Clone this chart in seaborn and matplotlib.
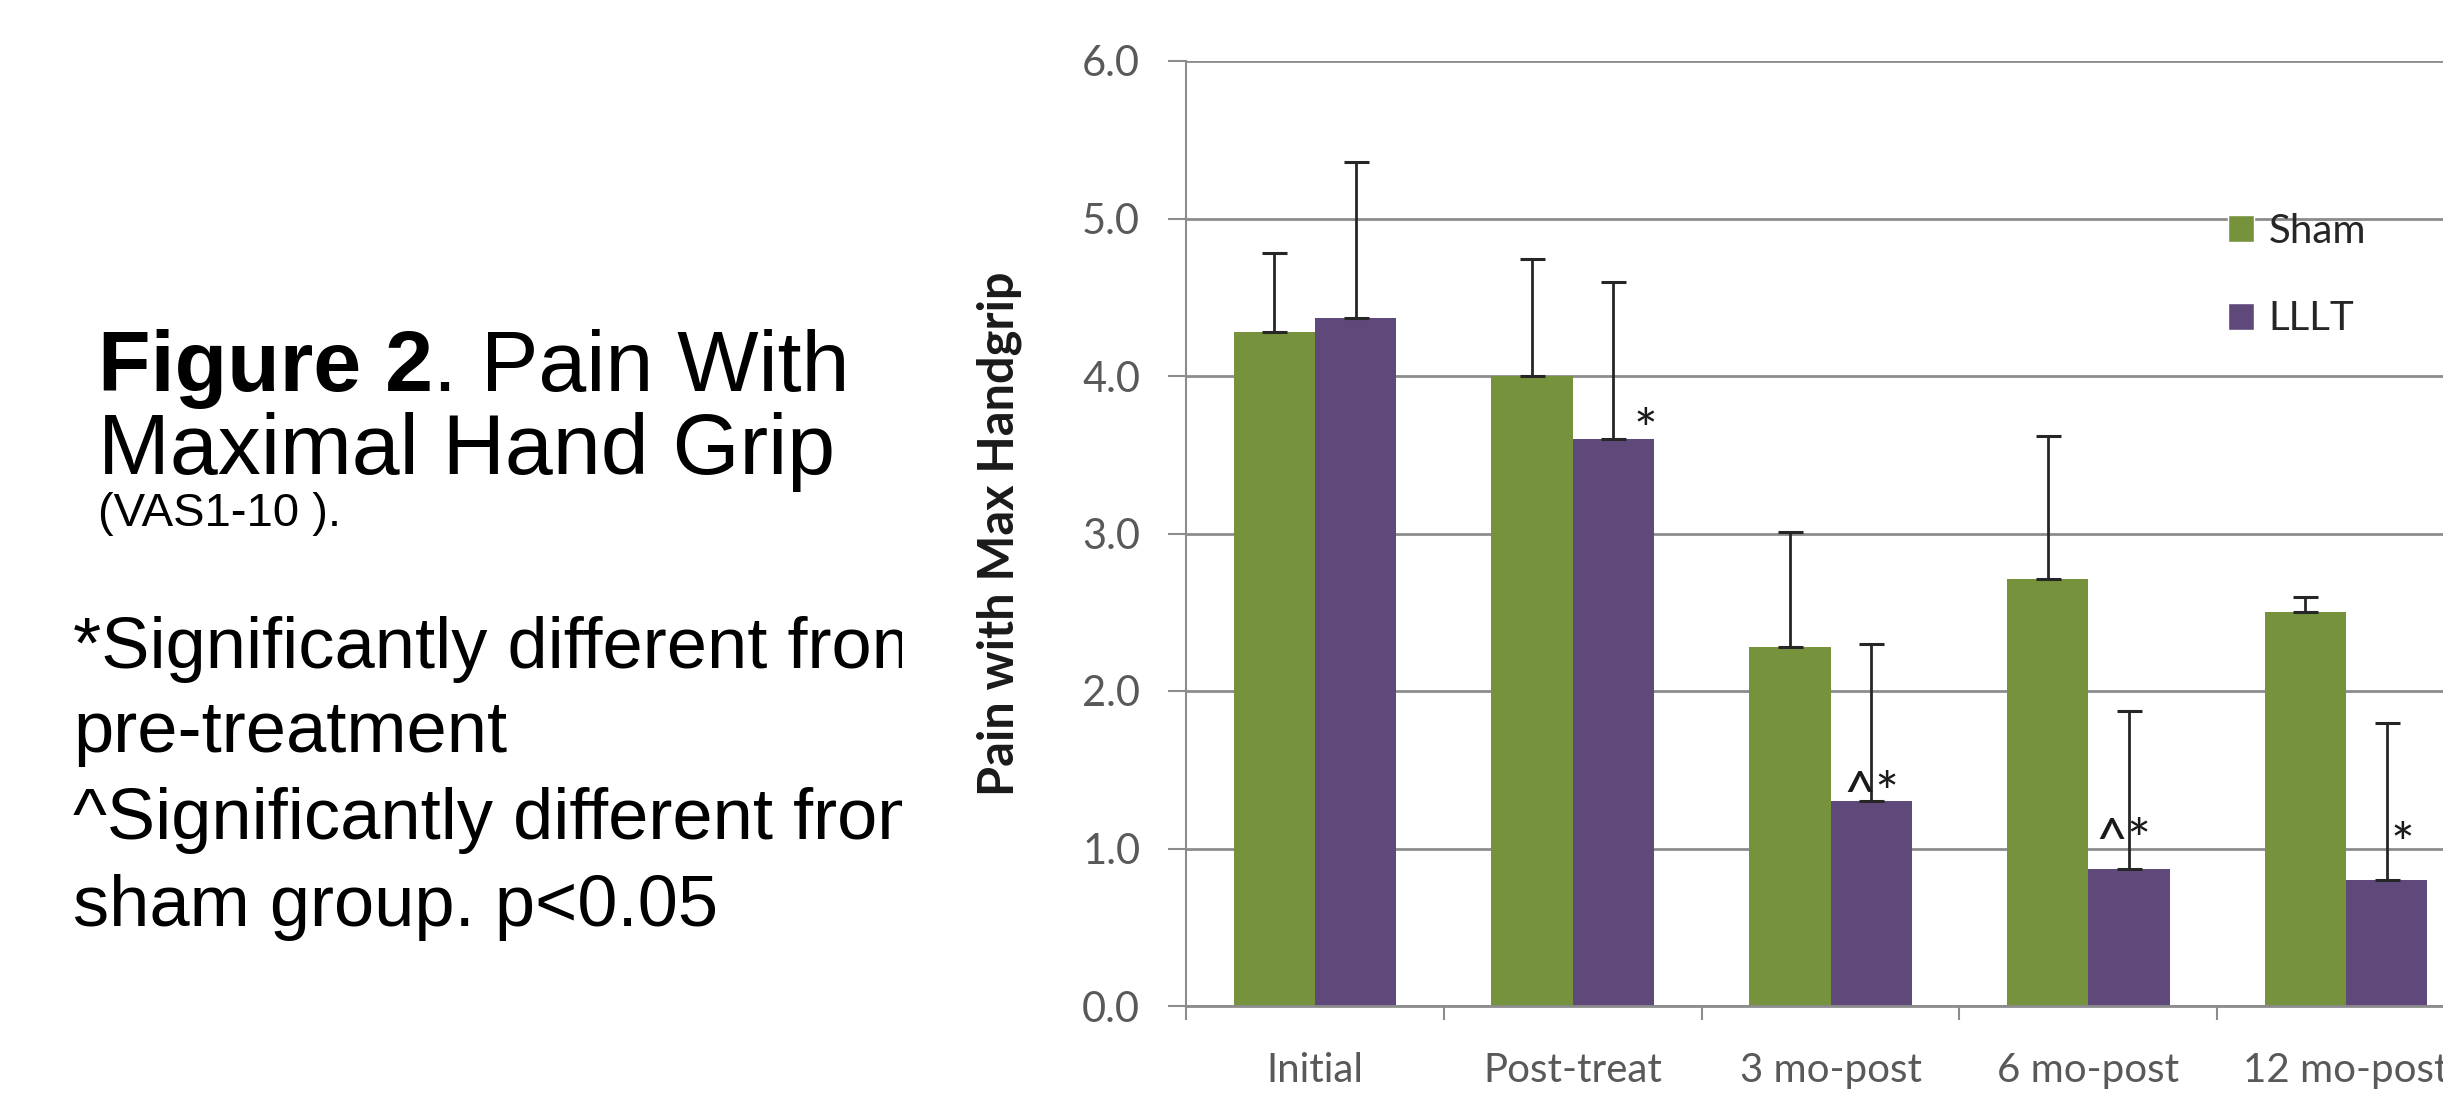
import numpy as np
import pandas as pd
import matplotlib
matplotlib.use('Agg')
import matplotlib.pyplot as plt
import seaborn as sns
from matplotlib.patches import Patch
from matplotlib.transforms import Bbox

timepoints = ['Initial', 'Post-treat', '3 mo-post', '6 mo-post', '12 mo-post']
groups = ['Sham', 'LLLT']
sham_mean = [4.28, 4.00, 2.28, 2.71, 2.50]
sham_err = [0.50, 0.74, 0.73, 0.91, 0.10]
lllt_mean = [4.37, 3.60, 1.30, 0.87, 0.80]
lllt_err = [0.99, 1.00, 1.00, 1.00, 1.00]
lllt_marks = ['', '*', '^*', '^*', '*']
yticks = [0, 1, 2, 3, 4, 5, 6]
colors = ['#76923C', '#5F497A']

df = pd.DataFrame({
    'Time': timepoints * 2,
    'Group': ['Sham'] * len(timepoints) + ['LLLT'] * len(timepoints),
    'Pain': sham_mean + lllt_mean,
})

sns.set_style('white')
plt.rcParams['font.family'] = ['Lato', 'DejaVu Sans']

W, H = 2443, 1097
fig = plt.figure(figsize=(W / 100, H / 100), dpi=100)
ax = fig.add_axes([1186 / W, 91 / H, 1289 / W, 945 / H])

sns.barplot(data=df, x='Time', y='Pain', hue='Group', order=timepoints,
            hue_order=groups, palette=colors, width=0.63, errorbar=None,
            saturation=1, linewidth=0, legend=False, ax=ax, zorder=2)

# one-sided error bars on top of the bars
for cont, errs in zip(ax.containers, [sham_err, lllt_err]):
    xs = [b.get_x() + b.get_width() / 2 for b in cont]
    hs = [b.get_height() for b in cont]
    ax.errorbar(xs, hs, yerr=[np.zeros(len(errs)), errs], fmt='none',
                ecolor='#262626', elinewidth=2, capsize=9, capthick=2.2, zorder=3)

# significance marks next to the LLLT bars (hand placed like the original)
mark_dx = [0, 0.125, 0.0, -0.02, 0.06]
mark_dy = [0, 0.035, 0.03, 0.16, 0.205]
for b, m, dx, dy in zip(ax.containers[1], lllt_marks, mark_dx, mark_dy):
    if m:
        ax.text(b.get_x() + b.get_width() / 2 + dx, b.get_height() + dy, m,
                ha='center', va='center', fontsize=40, color='#1a1a1a', zorder=4)

ax.set_ylim(0, 6)
ax.set_xlim(-0.5, 4.5)
ax.set_yticks(yticks)
ax.set_yticklabels([f'{v:.1f}' for v in yticks])
ax.yaxis.grid(True, color='#8c8c8c', lw=2)
ax.set_axisbelow(True)
ax.tick_params(axis='y', length=13, width=1.5, color='#8c8c8c', pad=20,
               labelsize=30, labelcolor='#595959', left=True)
ax.set_xticks(np.arange(-0.5, len(timepoints), 1), minor=True)
ax.tick_params(axis='x', which='minor', length=10, width=1.5, color='#8c8c8c', bottom=True)
ax.tick_params(axis='x', which='major', length=0, pad=33, labelsize=29, labelcolor='#595959')
for s in ['top', 'right']:
    ax.spines[s].set_visible(False)
ax.spines['left'].set_color('#8c8c8c')
ax.spines['left'].set_linewidth(1.5)
ax.spines['bottom'].set_color('#8c8c8c')
ax.spines['bottom'].set_linewidth(2)

ax.set_xlabel('')
ax.set_ylabel('Pain with Max Handgrip', fontsize=35, fontweight='bold', color='#1a1a1a')
ax.yaxis.set_label_coords(-0.127, 0.5)

handles = [Patch(facecolor=c, label=g) for c, g in zip(colors, groups)]
fig.legend(handles=handles, loc='upper left', bbox_to_anchor=(2228 / W, 1 - 213 / H),
           frameon=False, fontsize=29, handlelength=0.65, handleheight=0.65,
           handletextpad=0.35, labelspacing=1.25, borderpad=0, borderaxespad=0,
           labelcolor='#262626')

# caption text on the left
cap_font = ['Liberation Sans', 'DejaVu Sans']
t1 = fig.text(98 / W, 1 - 391 / H, 'Figure 2', fontsize=62, fontweight='bold',
              family=cap_font, va='baseline', color='black')
fig.canvas.draw()
bb = t1.get_window_extent()
fig.text(bb.x1 / W, 1 - 391 / H, '. Pain With', fontsize=62, family=cap_font,
         va='baseline', color='black')
fig.text(98 / W, 1 - 474 / H, 'Maximal Hand Grip', fontsize=62, family=cap_font,
         va='baseline', color='black')
fig.text(98 / W, 1 - 526 / H, '(VAS1-10 ).', fontsize=34, family=cap_font,
         va='baseline', color='black')

notes = ['*Significantly different from', 'pre-treatment',
         '^Significantly different from', 'sham group. p<0.05']
clip = Bbox.from_extents(0, 0, 902, H)
for line, base in zip(notes, [668, 752, 839, 926]):
    t = fig.text(73 / W, 1 - base / H, line, fontsize=52, family=cap_font,
                 va='baseline', color='black')
    t.set_clip_on(True)
    t.set_clip_box(clip)

fig.savefig('out.png', dpi=100)
